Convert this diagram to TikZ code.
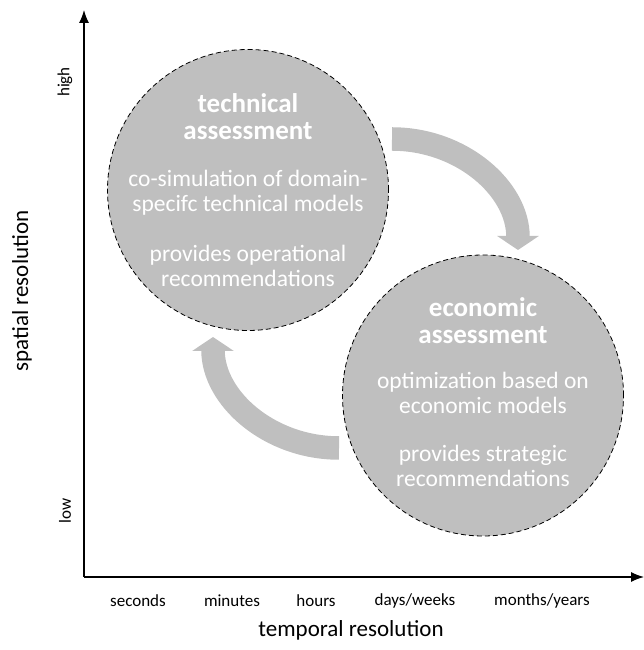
\documentclass[tikz,border=0pt]{standalone}
\usepackage{fontspec}
\setmainfont{Carlito}
\usetikzlibrary{arrows.meta}
\definecolor{assessgray}{RGB}{191,191,191}
\newcommand{\asstitle}{\fontsize{27}{28}\selectfont\bfseries}

\begin{document}
\begin{tikzpicture}[x=1pt,y=1pt,
	assess/.style={circle,draw=black,fill=assessgray,dash pattern=on 5pt off 3pt,line width=0.8pt,minimum size=281pt,inner sep=0pt},
	assesstext/.style={text=white,align=center,font=\fontsize{23.5}{25}\selectfont,inner sep=0pt},
	cyclearrow/.style={draw=assessgray,line width=23.5pt,-{Triangle[width=41pt,length=14pt]}},
	axis/.style={line width=1.2pt,-{Latex[length=13pt,width=10pt]}},
	ticklabel/.style={font=\fontsize{17}{20}\selectfont},
	axistitle/.style={font=\fontsize{23}{26}\selectfont}]
	\useasboundingbox (0,0) rectangle (644,650);
	% axes
	\coordinate (o) at (84,73);
	\coordinate (xend) at (644,73);
	\coordinate (yend) at (84,640);
	\draw[axis] (o)--(xend);
	\draw[axis] (o)--(yend);
	\foreach\xx/\lab [count=\i] in {138/seconds,232/minutes,316/hours,415/{days/weeks},542/{months/years}}
		{\node[ticklabel] (t\i) at (\xx,49) {\lab};}
	\node[axistitle] (xlab) at (351,20) {temporal resolution};
	\node[ticklabel,rotate=90] (high) at (65,568) {high};
	\node[ticklabel,rotate=90] (low) at (65,139) {low};
	\node[axistitle,rotate=90] (ylab) at (22,359) {spatial resolution};
	% the two assessments
	\node[assess] (tech) at (248,460) {};
	\node[assess] (econ) at (483,254.5) {};
	\node[assesstext] (techtxt) at (tech) {\asstitle technical\\[2pt]\asstitle assessment\\[22pt]
		co-simulation of domain-\\specifc technical models\\[25pt]provides operational\\recommendations};
	\node[assesstext] (econtxt) at ([yshift=3.5pt]econ.center) {\asstitle economic\\[2pt]\asstitle assessment\\[20pt]
		optimization based on\\economic models\\[23pt]provides strategic\\recommendations};
	% arrows between them
	\coordinate (toecon) at (392,511);
	\coordinate (totech) at (339,202);
	\draw[cyclearrow] (toecon) arc[start angle=90,end angle=0,x radius=126,y radius=111];
	\draw[cyclearrow] (totech) arc[start angle=270,end angle=180,x radius=126,y radius=111];
\end{tikzpicture}
\end{document}
